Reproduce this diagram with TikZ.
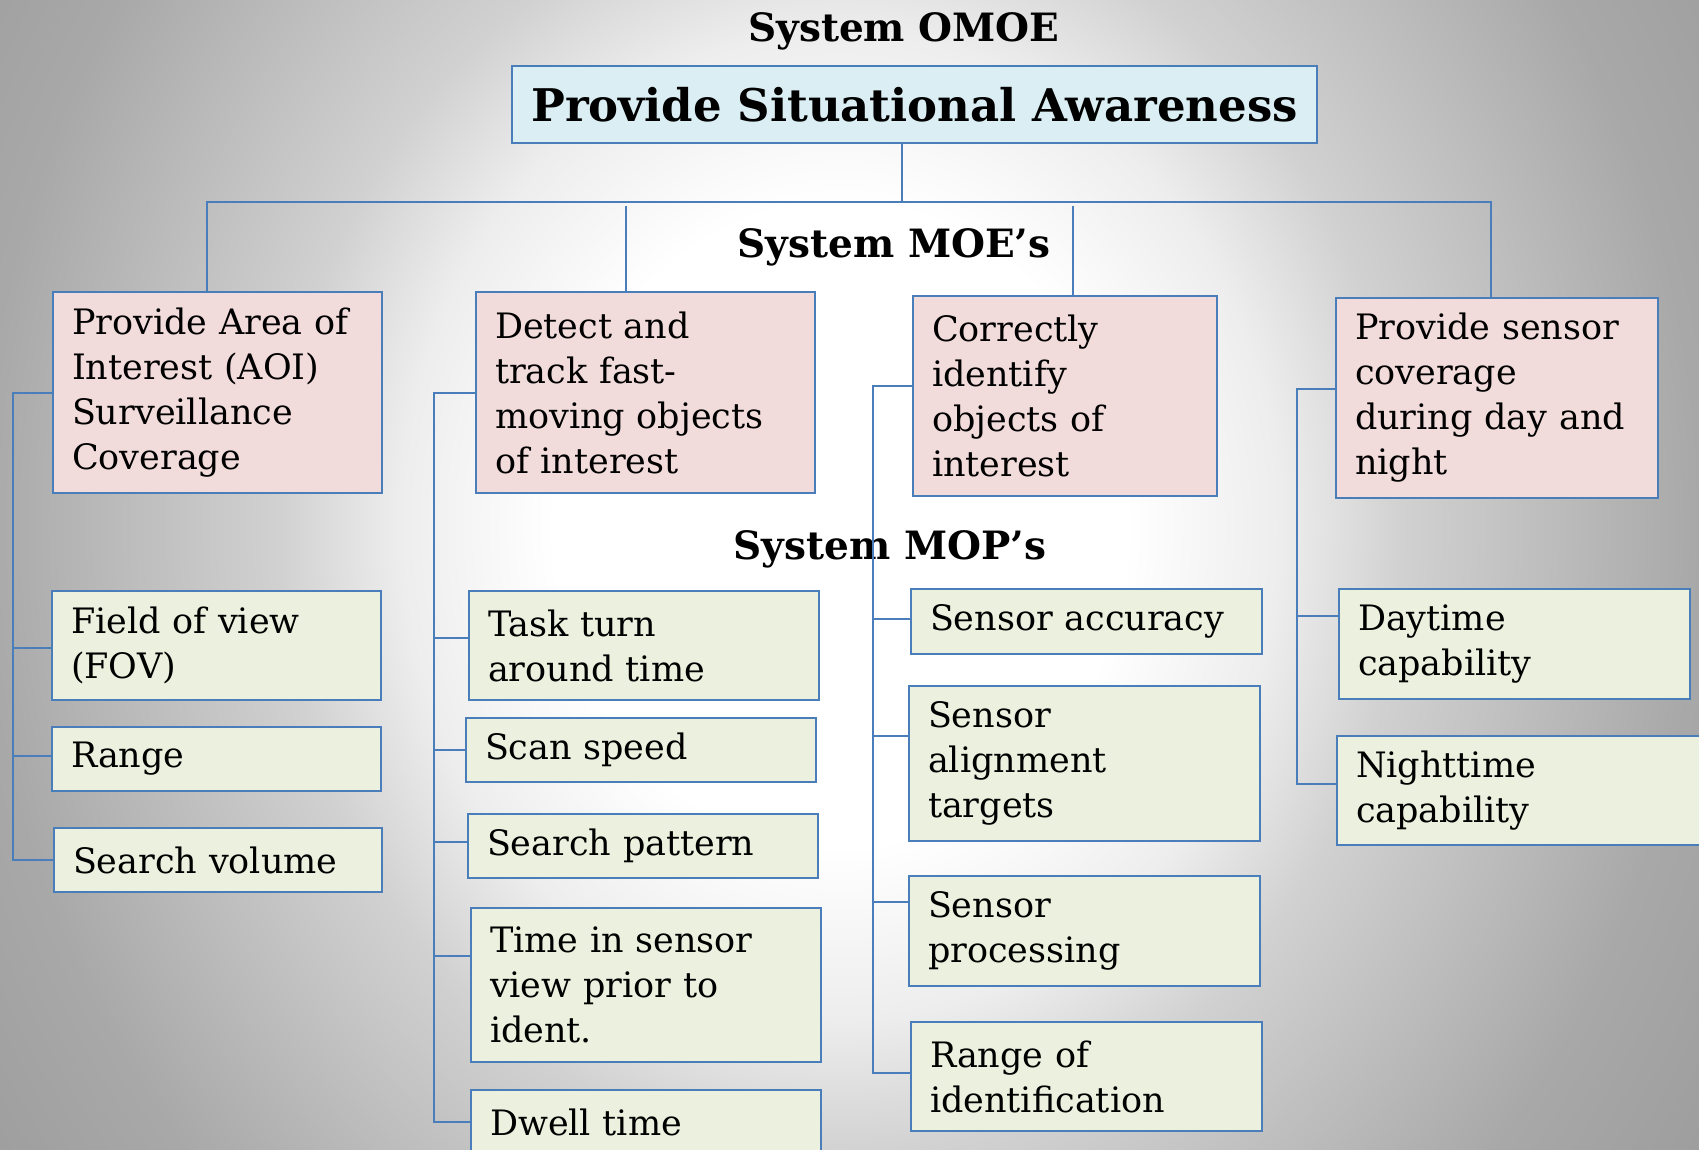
\documentclass[tikz,border=0pt]{standalone}
\usepackage{fontspec}
\setmainfont{DejaVu Serif}
\definecolor{lnblue}{HTML}{4A7EBB}
\definecolor{ttfill}{HTML}{DAEEF3}
\definecolor{moefill}{HTML}{F2DCDB}
\definecolor{mopfill}{HTML}{EBF1DE}
\pgfdeclareradialshading{bgshade}{\pgfpoint{0bp}{0bp}}{color(0bp)=(white); color(6.5bp)=(white); color(10bp)=(black!7); color(12.75bp)=(black!18); color(19.5bp)=(black!34); color(25bp)=(black!40); color(50bp)=(black!40)}
\begin{document}
\begin{tikzpicture}[x=1pt,y=-1pt,
  boxbase/.style={draw=lnblue, line width=2pt, anchor=north west, inner xsep=19pt, inner ysep=0pt, align=left, font=\fontsize{35}{45}\selectfont},
  moebox/.style={boxbase, fill=moefill},
  mopbox/.style={boxbase, fill=mopfill},
  titlebox/.style={draw=lnblue, line width=2pt, anchor=north west, fill=ttfill, inner sep=0pt, font=\bfseries\fontsize{45}{50}\selectfont},
  head/.style={font=\bfseries\fontsize{39}{45}\selectfont, inner sep=0pt, anchor=base},
  conn/.style={draw=lnblue, line width=2pt}]
\useasboundingbox (0,0) rectangle (1699,1150);
\begin{scope}
  \clip (0,0) rectangle (1699,1150);
  \shade[shading=bgshade] (-260,-710) rectangle (1940,1760);
\end{scope}

% headings
\node[head] (hOmoe) at (904,42) {System OMOE};
\node[head] (hMoe) at (894,258) {System MOE’s};
\node[head] (hMop) at (890,559) {System MOP’s};

% title
\node[titlebox, minimum width=805pt, minimum height=77pt] (title) at (511,65) {Provide Situational Awareness};

% MOE boxes
\node[moebox, minimum width=329pt, text width=291pt, minimum height=201pt] (m1) at (52,291) {Provide Area of\\Interest (AOI)\\Surveillance\\Coverage};
\node[moebox, minimum width=339pt, text width=301pt, minimum height=201pt] (m2) at (475,291) {Detect and\\track fast-\\moving objects\\of interest};
\node[moebox, minimum width=304pt, text width=266pt, minimum height=200pt] (m3) at (912,295) {Correctly\\identify\\objects of\\interest};
\node[moebox, minimum width=322pt, text width=284pt, minimum height=200pt] (m4) at (1335,297) {Provide sensor\\coverage\\during day and\\night};

% MOP column 1
\node[mopbox, minimum width=329pt, text width=291pt, minimum height=109pt] (a1) at (51,590) {Field of view\\(FOV)};
\node[mopbox, minimum width=329pt, text width=291pt, minimum height=64pt] (a2) at (51,726) {Range};
\node[mopbox, minimum width=328pt, text width=290pt, minimum height=64pt] (a3) at (53,827) {Search volume};

% MOP column 2
\node[mopbox, minimum width=350pt, text width=312pt, minimum height=109pt] (b1) at (468,590) {Task turn\\around time};
\node[mopbox, minimum width=350pt, text width=312pt, minimum height=64pt] (b2) at (465,717) {Scan speed};
\node[mopbox, minimum width=350pt, text width=312pt, minimum height=64pt] (b3) at (467,813) {Search pattern};
\node[mopbox, minimum width=350pt, text width=312pt, minimum height=154pt] (b4) at (470,907) {Time in sensor\\view prior to\\ident.};
\node[mopbox, minimum width=350pt, text width=312pt, minimum height=64pt] (b5) at (470,1089) {Dwell time};

% MOP column 3
\node[mopbox, minimum width=351pt, text width=313pt, minimum height=65pt] (c1) at (910,588) {Sensor accuracy};
\node[mopbox, minimum width=351pt, text width=313pt, minimum height=155pt] (c2) at (908,685) {Sensor\\alignment\\targets};
\node[mopbox, minimum width=351pt, text width=313pt, minimum height=110pt] (c3) at (908,875) {Sensor\\processing};
\node[mopbox, minimum width=351pt, text width=313pt, minimum height=109pt] (c4) at (910,1021) {Range of\\identification};

% MOP column 4
\node[mopbox, minimum width=351pt, text width=313pt, minimum height=110pt] (d1) at (1338,588) {Daytime\\capability};
\node[mopbox, minimum width=374pt, text width=336pt, minimum height=109pt] (d2) at (1336,735) {Nighttime\\capability};

% top tree
\coordinate (bus) at (0,202);
\draw[conn] ([xshift=-13pt]title.south) -- ([xshift=-13pt]title.south |- bus);
\draw[conn] ([xshift=-11pt]m1.north) -- ([xshift=-11pt]m1.north |- bus) -- ([xshift=-6pt]m4.north |- bus) -- ([xshift=-6pt]m4.north);
\draw[conn] ([xshift=-20pt]m2.north) -- ([xshift=-20pt,yshift=-4pt]m2.north |- bus);
\draw[conn] ([xshift=8pt]m3.north) -- ([xshift=8pt,yshift=-4pt]m3.north |- bus);

% column 1 spine
\coordinate (s1) at (13,0);
\draw[conn] (m1.west) -- (m1.west -| s1) -- (a3.west -| s1) -- (a3.west);
\draw[conn] ([yshift=-2pt]a1.west -| s1) -- ([yshift=-2pt]a1.west);
\draw[conn] ([yshift=3pt]a2.west -| s1) -- ([yshift=3pt]a2.west);

% column 2 spine
\coordinate (s2) at (434,0);
\draw[conn] (m2.west) -- (m2.west -| s2) -- (b5.west -| s2) -- (b5.west);
\draw[conn] ([yshift=8pt]b1.west -| s2) -- ([yshift=8pt]b1.west);
\draw[conn] (b2.west -| s2) -- (b2.west);
\draw[conn] ([yshift=4pt]b3.west -| s2) -- ([yshift=4pt]b3.west);
\draw[conn] ([yshift=29pt]b4.west -| s2) -- ([yshift=29pt]b4.west);

% column 3 spine
\coordinate (s3) at (873,0);
\draw[conn] ([yshift=10pt]m3.west) -- ([yshift=10pt]m3.west -| s3) -- ([yshift=4pt]c4.west -| s3) -- ([yshift=4pt]c4.west);
\draw[conn] ([yshift=3pt]c1.west -| s3) -- ([yshift=3pt]c1.west);
\draw[conn] ([yshift=28pt]c2.west -| s3) -- ([yshift=28pt]c2.west);
\draw[conn] ([yshift=29pt]c3.west -| s3) -- ([yshift=29pt]c3.west);

% column 4 spine
\coordinate (s4) at (1297,0);
\draw[conn] ([yshift=9pt]m4.west) -- ([yshift=9pt]m4.west -| s4) -- ([yshift=7pt]d2.west -| s4) -- ([yshift=7pt]d2.west);
\draw[conn] ([yshift=28pt]d1.west -| s4) -- ([yshift=28pt]d1.west);
\end{tikzpicture}
\end{document}
